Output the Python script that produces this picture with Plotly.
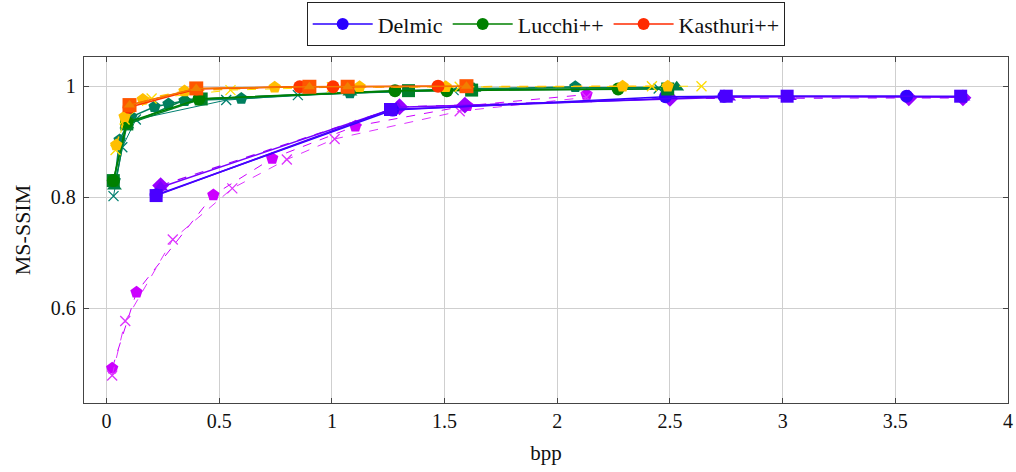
import plotly.graph_objects as go

# ---------------- data ----------------
# Delmic
d_circle_x = [0.22, 1.27, 2.48, 2.74, 3.55]
d_circle_y = [0.804, 0.957, 0.981, 0.982, 0.982]
d_square_x = [0.22, 1.26, 2.75, 3.02, 3.79]
d_square_y = [0.803, 0.958, 0.982, 0.982, 0.982]
d_tri_x = [0.24, 1.29, 2.76, 3.03, 3.80]
d_tri_y = [0.818, 0.962, 0.980, 0.981, 0.980]
d_diam_x = [0.24, 1.30, 1.59, 2.50, 3.56, 3.80]
d_diam_y = [0.821, 0.963, 0.966, 0.978, 0.979, 0.979]
d_pent_x = [0.025, 0.133, 0.474, 0.735, 1.104, 1.60, 2.13]
d_pent_y = [0.492, 0.629, 0.804, 0.870, 0.928, 0.965, 0.985]
d_x_x = [0.025, 0.083, 0.294, 0.558, 0.80, 1.012, 1.567, 2.13]
d_x_y = [0.479, 0.577, 0.724, 0.816, 0.868, 0.905, 0.955, 0.980]

# Lucchi++
l_circle_x = [0.03, 0.09, 0.41, 1.28, 1.51, 2.27]
l_circle_y = [0.83, 0.935, 0.977, 0.992, 0.992, 0.995]
l_square_x = [0.03, 0.09, 0.42, 1.34, 1.62, 2.49]
l_square_y = [0.83, 0.932, 0.977, 0.992, 0.993, 0.995]
l_tri_x = [0.035, 0.09, 0.35, 1.08, 1.63, 2.53]
l_tri_y = [0.82, 0.93, 0.976, 0.989, 0.996, 0.998]
l_pent_x = [0.036, 0.058, 0.11, 0.213, 0.275, 0.346, 0.598, 1.08, 2.08]
l_pent_y = [0.830, 0.903, 0.945, 0.963, 0.968, 0.974, 0.978, 0.988, 0.999]
l_x_x = [0.031, 0.07, 0.13, 0.531, 0.849, 1.54, 2.45]
l_x_y = [0.802, 0.89, 0.94, 0.975, 0.984, 0.993, 0.996]

# Kasthuri++
k_circle_x = [0.10, 0.40, 0.857, 1.005, 1.471]
k_circle_y = [0.962, 0.995, 0.999, 0.999, 1.0]
k_square_x = [0.102, 0.398, 0.90, 1.07, 1.597]
k_square_y = [0.966, 0.996, 0.999, 0.999, 1.0]
k_tri_x = [0.102, 0.398, 0.90, 1.07, 1.597]
k_tri_y = [0.966, 0.996, 0.999, 0.999, 1.0]
k_pent_x = [0.043, 0.08, 0.161, 0.346, 0.746, 1.123, 1.505, 2.29, 2.49]
k_pent_y = [0.894, 0.945, 0.976, 0.9915, 0.998, 0.999, 0.999, 1.0, 1.0]
k_x_x = [0.04, 0.08, 0.20, 0.55, 1.0, 1.567, 2.42, 2.64]
k_x_y = [0.885, 0.94, 0.978, 0.993, 0.998, 0.999, 1.0, 1.0]

x_ticks = [0, 0.5, 1, 1.5, 2, 2.5, 3, 3.5, 4]
x_tick_text = ["0", "0.5", "1", "1.5", "2", "2.5", "3", "3.5", "4"]
y_ticks = [0.6, 0.8, 1.0]
y_tick_text = ["0.6", "0.8", "1"]

legend_names = ["Delmic", "Lucchi++", "Kasthuri++"]
legend_colors = ["#2a00ff", "#008000", "#ff2a00"]

FONT = "Liberation Serif"
FS = 20

fig = go.Figure()


def add(x, y, color, symbol, dash="solid", size=13, width=1.5):
    open_sym = symbol.endswith("-open")
    fig.add_trace(go.Scatter(
        x=x, y=y, mode="lines+markers", showlegend=False, hoverinfo="skip",
        line=dict(color=color, width=width, dash=dash),
        marker=dict(symbol=symbol, size=size, color=color,
                    line=dict(color=color, width=1.3 if open_sym else 0)),
    ))


# Delmic group
add(d_pent_x, d_pent_y, "#cc00ff", "pentagon", dash="dash", width=1.0)
add(d_x_x, d_x_y, "#dd33ff", "x-thin-open", dash="dash", size=10, width=1.0)
add(d_diam_x, d_diam_y, "#9a00ff", "diamond", dash="dash", width=1.2)
add(d_tri_x, d_tri_y, "#7a00ff", "triangle-up", width=1.5)
add(d_circle_x, d_circle_y, "#3300ff", "circle", width=1.5)
add(d_square_x, d_square_y, "#4a00ff", "square", width=1.5)

# Lucchi++ group
add(l_x_x, l_x_y, "#008070", "x-thin-open", size=10, width=1.0)
add(l_pent_x, l_pent_y, "#007f5f", "pentagon", width=1.5)
add(l_tri_x, l_tri_y, "#00804a", "triangle-up", width=1.5)
add(l_square_x, l_square_y, "#00802a", "square", width=1.5)
add(l_circle_x, l_circle_y, "#008000", "circle", width=1.5)

# Kasthuri++ group
add(k_x_x, k_x_y, "#ffdd00", "x-thin-open", dash="dash", size=10, width=1.0)
add(k_pent_x, k_pent_y, "#ffbf00", "pentagon", dash="dash", width=1.5)
add(k_circle_x, k_circle_y, "#ff3300", "circle", width=1.5)
add(k_square_x, k_square_y, "#ff5500", "square", size=14, width=1.5)
add(k_tri_x, k_tri_y, "#f08000", "triangle-up", size=10, width=1.0)

# Legend entries
for name, col in zip(legend_names, legend_colors):
    fig.add_trace(go.Scatter(
        x=[None], y=[None], mode="lines+markers", name=name,
        line=dict(color=col, width=1.5),
        marker=dict(symbol="circle", size=12, color=col),
    ))

axis_common = dict(
    showgrid=True, gridcolor="#cfcfcf", gridwidth=1,
    showline=True, linecolor="#444444", linewidth=1.3, mirror="ticks",
    ticks="inside", ticklen=5, tickcolor="#444444", zeroline=False,
    tickfont=dict(family=FONT, size=FS, color="#111111"),
)

fig.update_layout(
    width=1016, height=472,
    margin=dict(l=84, r=8, t=57, b=69, autoexpand=False),
    paper_bgcolor="white", plot_bgcolor="white",
    font=dict(family=FONT, size=FS, color="#111111"),
    xaxis=dict(range=[-0.1, 4.0], tickvals=x_ticks, ticktext=x_tick_text,
               title=dict(text="bpp", font=dict(family=FONT, size=21), standoff=14),
               **axis_common),
    yaxis=dict(range=[0.4294, 1.0526], tickvals=y_ticks, ticktext=y_tick_text,
               ticklabelstandoff=3,
               title=dict(text="MS-SSIM", font=dict(family=FONT, size=22), standoff=14),
               **axis_common),
    legend=dict(orientation="h", x=0.5, xanchor="center", y=1.159, yanchor="top",
                bordercolor="#222222", borderwidth=1.2, bgcolor="white",
                font=dict(family=FONT, size=22), itemwidth=60),
)

fig.write_html("out.html")
